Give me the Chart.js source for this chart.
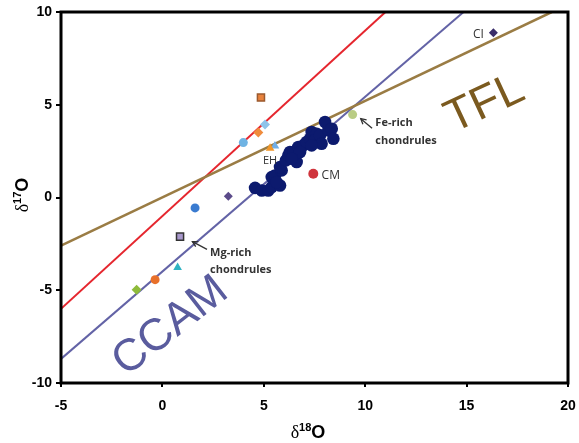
<!DOCTYPE html>
<html>
<head>
<meta charset="utf-8">
<script src="https://cdn.jsdelivr.net/npm/chart.js@4.4.0/dist/chart.umd.min.js"></script>
<style>
  html, body { margin: 0; padding: 0; background: #fff; }
  #wrap { width: 579px; height: 443px; }
</style>
</head>
<body>
<div id="wrap"><canvas id="chart"></canvas></div>
<script>
// --- datos (δ18O, δ17O) ---
const dotsX = [4.57, 4.90, 5.22, 5.39, 5.80, 5.39, 5.55, 5.88, 5.80, 6.09, 6.21, 6.29, 6.46, 6.62, 6.70,
               6.95, 7.11, 7.28, 7.36, 7.61, 7.52, 7.77, 8.02, 8.18, 8.35, 8.43, 7.85, 7.36, 6.79, 6.38, 5.63];
const dotsY = [0.52, 0.38, 0.38, 0.56, 0.65, 1.10, 1.19, 1.46, 1.64, 2.00, 2.27, 2.45, 2.45, 1.91, 2.72,
               2.81, 2.99, 3.17, 3.53, 3.44, 3.08, 3.35, 4.07, 3.62, 3.71, 3.17, 2.90, 2.81, 2.45, 2.09, 0.83];

const markerNames = ["sq-orange", "dia-lblue", "dia-orange", "circ-lblue", "tri-orange", "tri-lblue", "CM",
                     "dia-purple", "Fe-rich", "circ-blue", "Mg-rich", "tri-cyan", "circ-orange", "dia-green", "CI"];
const markerX = [4.86, 5.06, 4.73, 3.99, 5.31, 5.55, 7.44, 3.25, 9.38, 1.61, 0.87, 0.75, -0.36, -1.27, 16.32];
const markerY = [5.39, 3.93, 3.50, 2.96, 2.66, 2.77, 1.28, 0.07, 4.47, -0.56, -2.11, -3.77, -4.43, -4.97, 8.88];

// rectas de referencia (extremos)
const tflX  = [-5, 19.2];  const tflY  = [-2.6, 10];
const redX  = [-5, 11];    const redY  = [-6, 10];
const ccamX = [-5, 14.85]; const ccamY = [-8.7, 10];

const xTicks = [-5, 0, 5, 10, 15, 20];
const yTicks = [-10, -5, 0, 5, 10];

// estilos de los marcadores (en el mismo orden que markerNames)
const markerStyle = [
  { s: "rect",    r: 5,   c: "#E8823C", b: "#9B5A2E", w: 1.5 },
  { s: "rectRot", r: 5,   c: "#8EC3EA" },
  { s: "rectRot", r: 5,   c: "#F08C3C" },
  { s: "circle",  r: 4.5, c: "#6FB3E3" },
  { s: "triangle",r: 5,   c: "#F0962A" },
  { s: "triangle",r: 5,   c: "#6FAEE8" },
  { s: "circle",  r: 5,   c: "#D0343C" },
  { s: "rectRot", r: 4.5, c: "#5B4B8A" },
  { s: "circle",  r: 4.5, c: "#B9CC84" },
  { s: "circle",  r: 4.5, c: "#3A7BD0" },
  { s: "rect",    r: 5,   c: "#A898CC", b: "#333333", w: 1.5 },
  { s: "triangle",r: 5,   c: "#2FB3C3" },
  { s: "circle",  r: 4.5, c: "#E8702A" },
  { s: "rectRot", r: 5,   c: "#8EBB3A" },
  { s: "rectRot", r: 4.5, c: "#3A2D6A" }
];

const pts = (xs, ys) => xs.map((x, i) => ({ x, y: ys[i] }));

function lineSet(xs, ys, color, width) {
  return { type: "scatter", data: pts(xs, ys), showLine: true, borderColor: color, borderWidth: width,
           pointRadius: 0, order: 10, clip: 0 };
}

const datasets = [
  lineSet(tflX, tflY, "#9A7C44", 2.5),
  lineSet(redX, redY, "#E5262E", 2),
  lineSet(ccamX, ccamY, "#6363A6", 2),
  { data: pts(dotsX, dotsY), pointRadius: 6.3, backgroundColor: "#0C1A6E", borderColor: "#0C1A6E", borderWidth: 0, order: 1 }
];
markerNames.forEach((n, i) => {
  const st = markerStyle[i];
  datasets.push({
    label: n, data: [{ x: markerX[i], y: markerY[i] }], pointStyle: st.s, pointRadius: st.r,
    backgroundColor: st.c, borderColor: st.b || st.c, borderWidth: st.w || 0, order: 0
  });
});

// ---------- textos y flechas ----------
function arrow(ctx, x1, y1, x2, y2) {
  ctx.beginPath(); ctx.moveTo(x1, y1); ctx.lineTo(x2, y2); ctx.stroke();
  const a = Math.atan2(y2 - y1, x2 - x1), L = 6;
  ctx.beginPath();
  ctx.moveTo(x2 - L * Math.cos(a - 0.5), y2 - L * Math.sin(a - 0.5));
  ctx.lineTo(x2, y2);
  ctx.lineTo(x2 - L * Math.cos(a + 0.5), y2 - L * Math.sin(a + 0.5));
  ctx.stroke();
}

function deltaTitle(ctx, sup, cx, cy) {
  const f1 = "18px 'Liberation Serif'", f2 = "bold 11px 'Liberation Sans'", f3 = "bold 18px 'Liberation Sans'";
  ctx.font = f1; const w1 = ctx.measureText("δ").width;
  ctx.font = f2; const w2 = ctx.measureText(sup).width;
  ctx.font = f3; const w3 = ctx.measureText("O").width;
  let x = cx - (w1 + w2 + w3) / 2;
  ctx.textAlign = "left"; ctx.textBaseline = "alphabetic"; ctx.fillStyle = "#000";
  ctx.font = f1; ctx.fillText("δ", x, cy); x += w1;
  ctx.font = f2; ctx.fillText(sup, x, cy - 7); x += w2;
  ctx.font = f3; ctx.fillText("O", x, cy);
}

const extras = {
  id: "extras",
  afterDraw(chart) {
    const { ctx, chartArea: a, scales: { x, y } } = chart;
    const px = v => x.getPixelForValue(v), py = v => y.getPixelForValue(v);
    ctx.save();

    // marco
    ctx.strokeStyle = "#000"; ctx.lineWidth = 3;
    ctx.strokeRect(a.left, a.top, a.right - a.left, a.bottom - a.top);

    // etiquetas pequeñas
    ctx.fillStyle = "#333"; ctx.textBaseline = "middle";
    ctx.font = "11px 'Open Sans'";
    ctx.textAlign = "center"; ctx.fillText("EH", px(5.31), py(2.0));
    ctx.font = "12px 'Open Sans'";
    ctx.textAlign = "left"; ctx.fillText("CM", px(7.85), py(1.2));
    ctx.textAlign = "right"; ctx.fillText("CI", px(15.85), py(8.78));

    ctx.font = "bold 11px 'Open Sans'"; ctx.textAlign = "left";
    ctx.fillText("Fe-rich", px(10.5), py(4.0));
    ctx.fillText("chondrules", px(10.5), py(3.05));
    ctx.fillText("Mg-rich", px(2.35), py(-2.97));
    ctx.fillText("chondrules", px(2.35), py(-3.89));

    ctx.strokeStyle = "#333"; ctx.lineWidth = 1.3;
    arrow(ctx, px(10.34), py(3.73), px(9.78), py(4.25));
    arrow(ctx, px(2.2), py(-2.8), px(1.48), py(-2.38));

    // rótulos grandes
    ctx.textAlign = "center"; ctx.textBaseline = "middle";
    ctx.font = "46px 'Liberation Sans'";
    ctx.fillStyle = "#7B5A1F";
    ctx.save(); ctx.translate(px(15.9), py(5.03)); ctx.rotate(-25 * Math.PI / 180);
    ctx.fillText("TFL", 0, 0); ctx.restore();

    ctx.font = "45px 'Liberation Sans'";
    ctx.fillStyle = "#5A5C9E";
    ctx.save(); ctx.translate(px(0.4), py(-6.95)); ctx.rotate(-38 * Math.PI / 180);
    ctx.fillText("CCAM", 0, 0); ctx.restore();

    // títulos de ejes
    deltaTitle(ctx, "18", 308, 438);
    ctx.save(); ctx.translate(28, 195); ctx.rotate(-Math.PI / 2);
    deltaTitle(ctx, "17", 0, 0); ctx.restore();

    ctx.restore();
  }
};

const tickFont = { family: "'Liberation Sans'", size: 14, weight: "bold" };

new Chart(document.getElementById("chart"), {
  type: "scatter",
  data: { datasets },
  options: {
    responsive: true, maintainAspectRatio: false, animation: false,
    layout: { padding: { top: 12, right: 11, left: 0, bottom: 0 } },
    plugins: { legend: { display: false }, tooltip: { enabled: false } },
    scales: {
      x: {
        min: -5, max: 20,
        afterBuildTicks: s => { s.ticks = xTicks.map(v => ({ value: v })); },
        afterFit: s => { s.height = 60; s.paddingLeft = 0; s.paddingRight = 0; },
        border: { display: false },
        grid: { drawOnChartArea: false, drawTicks: true, tickLength: 4, color: "#000", lineWidth: 2 },
        ticks: { color: "#000", font: tickFont, padding: 11, maxRotation: 0 }
      },
      y: {
        min: -10, max: 10,
        afterBuildTicks: s => { s.ticks = yTicks.map(v => ({ value: v })); },
        afterFit: s => { s.width = 61; s.paddingTop = 0; s.paddingBottom = 0; },
        border: { display: false },
        grid: { drawOnChartArea: false, drawTicks: true, tickLength: 5, color: "#000", lineWidth: 2 },
        ticks: { color: "#000", font: tickFont, padding: 4 }
      }
    }
  },
  plugins: [extras]
});
</script>
</body>
</html>
